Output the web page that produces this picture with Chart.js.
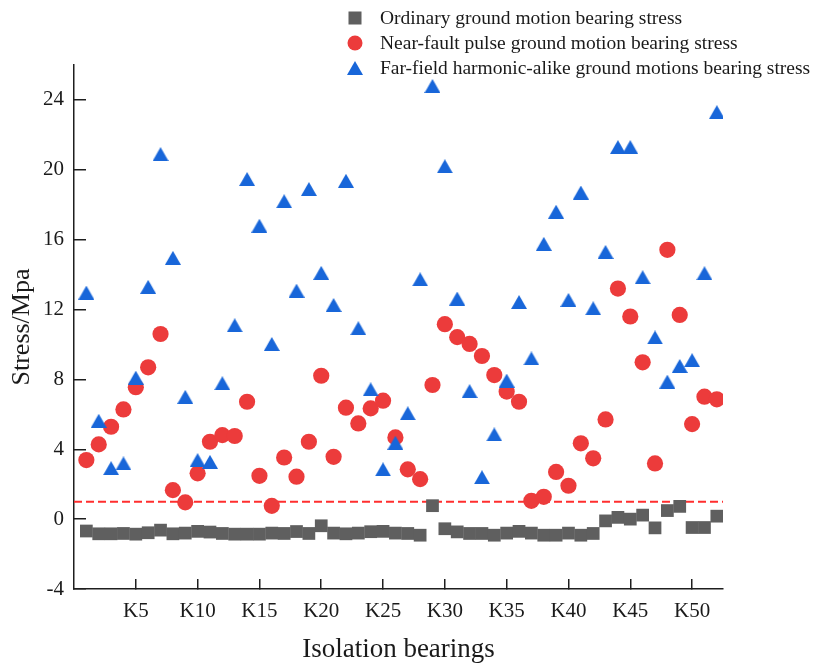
<!DOCTYPE html>
<html>
<head>
<meta charset="utf-8">
<title>Isolation bearing stress</title>
<script src="https://cdn.jsdelivr.net/npm/chart.js@4.4.1/dist/chart.umd.min.js"></script>
<style>
  html, body { margin: 0; padding: 0; background: #fff; }
  #wrap { position: relative; width: 816px; height: 671px; }
  #legend {
    position: absolute; left: 346px; top: 5px;
    font: 19.5px "Liberation Serif", "Times New Roman", serif; color: #1a1a1a;
  }
  #legend .item { height: 25px; display: flex; align-items: center; white-space: nowrap; }
  #legend svg { width: 18px; height: 18px; margin-right: 16px; flex: none; }
</style>
</head>
<body>
<div id="wrap">
  <canvas id="stress-chart" width="816" height="671"></canvas>
  <div id="legend"></div>
</div>
<script>
// bearing numbers K1..K52
const bearingIds = [
  1, 2, 3, 4, 5, 6, 7, 8, 9, 10, 11, 12, 13, 14, 15, 16, 17, 18, 19, 20,
  21, 22, 23, 24, 25, 26, 27, 28, 29, 30, 31, 32, 33, 34, 35, 36, 37, 38, 39, 40,
  41, 42, 43, 44, 45, 46, 47, 48, 49, 50, 51, 52
];

// bearing stress (MPa) per record type
const ordinaryStress = [
  -0.68, -0.84, -0.84, -0.82, -0.86, -0.78, -0.63, -0.84, -0.80, -0.70,
  -0.74, -0.82, -0.86, -0.86, -0.86, -0.80, -0.82, -0.71, -0.82, -0.38,
  -0.80, -0.84, -0.80, -0.72, -0.70, -0.80, -0.82, -0.92, 0.77, -0.55,
  -0.73, -0.82, -0.82, -0.92, -0.80, -0.70, -0.80, -0.92, -0.92, -0.80,
  -0.92, -0.82, -0.10, 0.10, 0.00, 0.23, -0.50, 0.49, 0.73, -0.48,
  -0.48, 0.17
];
const nearFaultStress = [
  3.38, 4.28, 5.29, 6.28, 7.55, 8.69, 10.60, 1.66, 0.96, 2.62,
  4.43, 4.81, 4.76, 6.72, 2.48, 0.76, 3.53, 2.43, 4.43, 8.21,
  3.57, 6.38, 5.48, 6.34, 6.78, 4.68, 2.85, 2.29, 7.68, 11.16,
  10.42, 10.03, 9.34, 8.25, 7.30, 6.72, 1.05, 1.28, 2.70, 1.91,
  4.34, 3.48, 5.71, 13.20, 11.60, 8.98, 3.19, 15.42, 11.69, 5.44,
  7.01, 6.86
];
const farFieldStress = [
  12.97, 5.63, 2.92, 3.19, 8.10, 13.30, 20.90, 14.96, 7.00, 3.38,
  3.28, 7.78, 11.10, 19.47, 16.80, 10.03, 18.20, 13.08, 18.90, 14.10,
  12.26, 19.37, 10.93, 7.43, 2.85, 4.37, 6.06, 13.73, 24.80, 20.20,
  12.63, 7.33, 2.40, 4.85, 7.93, 12.43, 9.20, 15.76, 17.60, 12.55,
  18.70, 12.07, 15.30, 21.30, 21.30, 13.85, 10.40, 7.87, 8.77, 9.10,
  14.08, 23.30
];

// reference stress drawn as a dashed line
const limitStress = 1;

const xTickValues = [5, 10, 15, 20, 25, 30, 35, 40, 45, 50];
const xTickLabels = ['K5', 'K10', 'K15', 'K20', 'K25', 'K30', 'K35', 'K40', 'K45', 'K50'];
const yTickValues = [-4, 0, 4, 8, 12, 16, 20, 24];
const xMin = 0, xMax = 52.5;
const yMin = -4, yMax = 26;

const toPoints = values => values.map((v, i) => ({ x: bearingIds[i], y: v }));

const serif = '"Liberation Serif", "Times New Roman", serif';
const axisColor = '#1e1e1e';

const greyColor = '#5f5f5f';
const redColor = '#ec3b3b';
const blueColor = '#1866d9';

// triangle marker centred on its box (built-in triangle sits on its circumcentre)
function triangleMarker(color, w, h) {
  const c = document.createElement('canvas');
  c.width = w;
  c.height = h;
  const g = c.getContext('2d');
  g.fillStyle = color;
  g.beginPath();
  g.moveTo(w / 2, 0);
  g.lineTo(w, h);
  g.lineTo(0, h);
  g.closePath();
  g.fill();
  return c;
}

const datasets = [
  {
    label: 'Ordinary ground motion bearing stress',
    data: toPoints(ordinaryStress),
    pointStyle: 'rect',
    pointRadius: 9,
    backgroundColor: greyColor,
    borderWidth: 0,
    order: 2,
    inLegend: true
  },
  {
    label: 'Near-fault pulse ground motion bearing stress',
    data: toPoints(nearFaultStress),
    pointStyle: 'circle',
    pointRadius: 8.1,
    backgroundColor: redColor,
    borderWidth: 0,
    order: 1,
    inLegend: true
  },
  {
    label: 'Far-field harmonic-alike ground motions bearing stress',
    data: toPoints(farFieldStress),
    pointStyle: triangleMarker(blueColor, 16, 14),
    pointRadius: 9,
    backgroundColor: blueColor,
    borderWidth: 0,
    order: 0,
    inLegend: true
  },
  {
    type: 'line',
    label: 'limit',
    data: [{ x: xMin, y: limitStress }, { x: xMax, y: limitStress }],
    borderColor: '#ff2e2e',
    borderWidth: 2,
    borderDash: [8, 4],
    pointRadius: 0,
    order: 3,
    inLegend: false
  }
];

const ctx = document.getElementById('stress-chart').getContext('2d');

const stressChart = new Chart(ctx, {
  type: 'scatter',
  data: { datasets },
  options: {
    responsive: false,
    animation: false,
    layout: { padding: { top: 65, right: 93, left: 0, bottom: 0 } },
    plugins: {
      legend: { display: false },
      tooltip: { enabled: false }
    },
    scales: {
      x: {
        type: 'linear',
        min: xMin,
        max: xMax,
        afterBuildTicks: scale => {
          scale.ticks = xTickValues.map(v => ({ value: v }));
        },
        afterFit: scale => { scale.height = 82; },
        ticks: {
          padding: 20,
          color: '#1a1a1a',
          font: { family: serif, size: 21 },
          callback: value => xTickLabels[xTickValues.indexOf(value)]
        },
        grid: {
          drawOnChartArea: false,
          tickLength: -10,
          color: axisColor,
          lineWidth: 1.5
        },
        border: { color: axisColor, width: 1.5 },
        title: {
          display: true,
          text: 'Isolation bearings',
          color: '#1a1a1a',
          font: { family: serif, size: 27 },
          padding: { top: 0, bottom: 5 }
        }
      },
      y: {
        min: yMin,
        max: yMax,
        afterBuildTicks: scale => {
          scale.ticks = yTickValues.map(v => ({ value: v }));
        },
        afterFit: scale => { scale.width = 74; },
        ticks: {
          padding: 22,
          color: '#1a1a1a',
          font: { family: serif, size: 21 }
        },
        grid: {
          drawOnChartArea: false,
          tickLength: -12,
          color: axisColor,
          lineWidth: 1.5
        },
        border: { color: axisColor, width: 1.5 },
        title: {
          display: true,
          text: 'Stress/Mpa',
          color: '#1a1a1a',
          font: { family: serif, size: 26 },
          padding: { top: 7, bottom: 0 }
        }
      }
    }
  }
});

// legend as html rows, one per plotted series
function markerSvg(ds) {
  const c = ds.backgroundColor;
  let shape;
  if (ds.pointStyle === 'rect') {
    shape = `<rect x="2.5" y="2.5" width="13" height="13" fill="${c}"/>`;
  } else if (ds.pointStyle === 'circle') {
    shape = `<circle cx="9" cy="9" r="7.5" fill="${c}"/>`;
  } else {
    shape = `<polygon points="9,2 17,16 1,16" fill="${c}"/>`;
  }
  return `<svg viewBox="0 0 18 18">${shape}</svg>`;
}

function buildLegend(chart) {
  const box = document.getElementById('legend');
  box.innerHTML = '';
  chart.data.datasets.forEach(ds => {
    if (!ds.inLegend) return;
    const row = document.createElement('div');
    row.className = 'item';
    row.innerHTML = `${markerSvg(ds)}<span>${ds.label}</span>`;
    box.appendChild(row);
  });
}

buildLegend(stressChart);
</script>
</body>
</html>
